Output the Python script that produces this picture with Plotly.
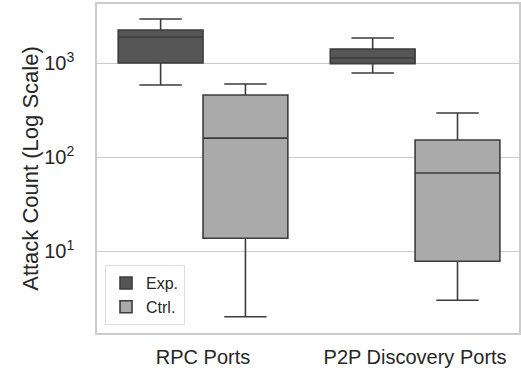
import plotly.graph_objects as go

categories = ["RPC Ports", "P2P Discovery Ports"]
exp_low = [583, 783]
exp_q1 = [1000, 985]
exp_med = [1890, 1130]
exp_q3 = [2245, 1409]
exp_high = [2940, 1846]

ctrl_low = [2, 3]
ctrl_q1 = [13.7, 7.8]
ctrl_med = [159, 67.6]
ctrl_q3 = [457, 152]
ctrl_high = [598, 294]

font = "Liberation Sans, Arial, sans-serif"
line_col = "#3d3d3d"

fig = go.Figure()
fig.add_trace(go.Box(
    name="Exp.", x=categories, q1=exp_q1, median=exp_med, q3=exp_q3,
    lowerfence=exp_low, upperfence=exp_high,
    fillcolor="#555555", line=dict(color=line_col, width=1.6),
    whiskerwidth=0.5, boxpoints=False))
fig.add_trace(go.Box(
    name="Ctrl.", x=categories, q1=ctrl_q1, median=ctrl_med, q3=ctrl_q3,
    lowerfence=ctrl_low, upperfence=ctrl_high,
    fillcolor="#aaaaaa", line=dict(color=line_col, width=1.6),
    whiskerwidth=0.5, boxpoints=False))

fig.update_layout(
    width=521, height=375,
    margin=dict(l=97, r=0, t=4, b=42),
    paper_bgcolor="white", plot_bgcolor="white",
    boxmode="group", boxgap=0.2, boxgroupgap=0,
    font=dict(family=font, size=20, color="#262626"),
    showlegend=True,
    legend=dict(x=0.019, y=0.024, xanchor="left", yanchor="bottom",
                bgcolor="white", bordercolor="#dddddd", borderwidth=1,
                font=dict(size=16, color="#262626"), tracegroupgap=2),
    xaxis=dict(range=[-0.5, 1.49], showgrid=False, showline=True, mirror=True,
               linecolor="#cccccc", linewidth=1.5, ticks="",
               tickfont=dict(size=20), zeroline=False, ticklabelstandoff=5),
    yaxis=dict(type="log", range=[0.128, 3.628], showgrid=True, gridcolor="#cccccc",
               gridwidth=1.2, showline=True, mirror=True, linecolor="#cccccc", linewidth=1.5,
               tickvals=[10, 100, 1000],
               ticktext=["10<sup>1</sup>", "10<sup>2</sup>", "10<sup>3</sup>"],
               tickfont=dict(size=20), ticks="", zeroline=False, ticklabelstandoff=17,
               title=dict(text="Attack Count (Log Scale)", font=dict(size=22), standoff=0)),
)

fig.write_html("out.html")
